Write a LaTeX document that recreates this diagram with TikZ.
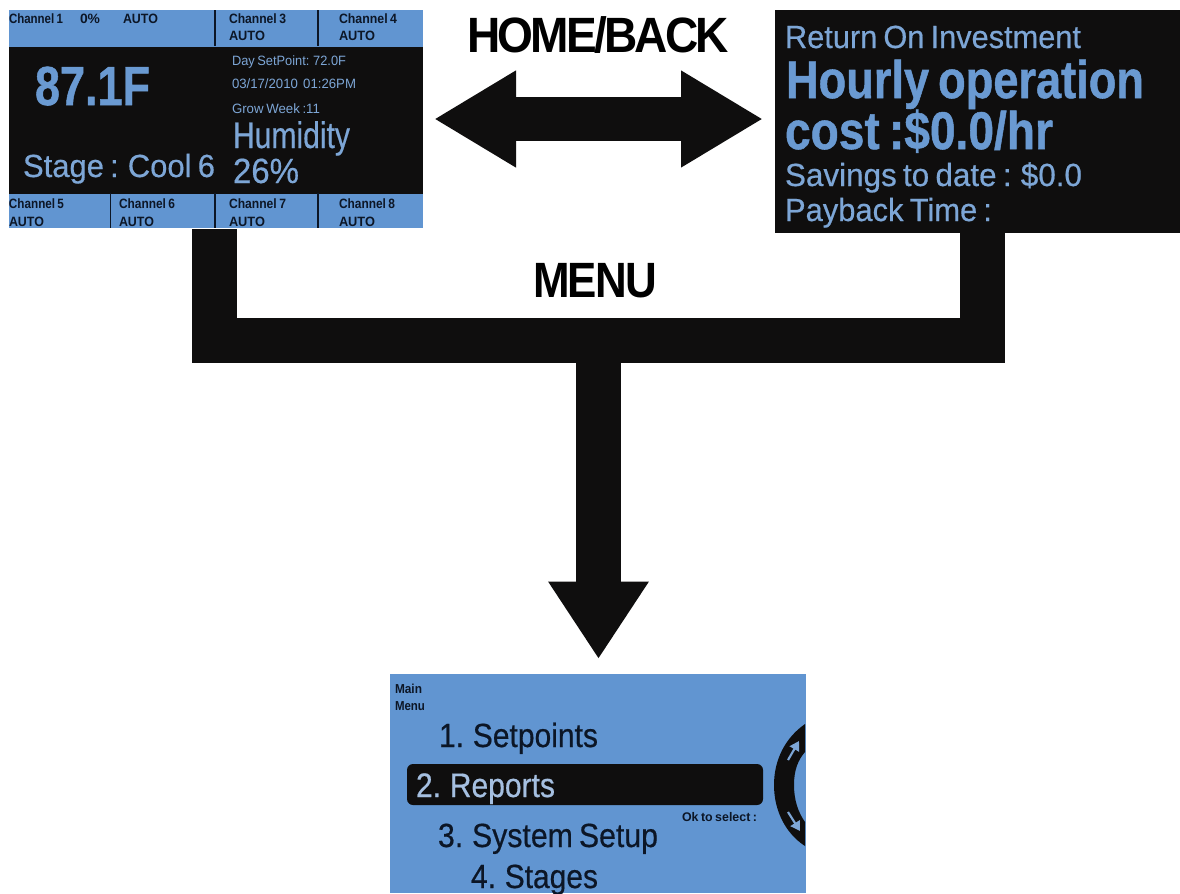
\documentclass[tikz,border=0pt]{standalone}
\usepackage{fontspec}
\usepackage{graphicx}
\setmainfont{Liberation Sans}
\usetikzlibrary{arrows.meta}
\newlength\pxu \setlength\pxu{.75pt}
\newfontfamily\tightA[LetterSpace=-6]{Liberation Sans}
\newfontfamily\tightB[LetterSpace=-4]{Liberation Sans}
\newfontfamily\heavyA[FakeBold=0.5]{Liberation Sans}
\newfontfamily\heavyB[BoldFont={Liberation Sans Bold},BoldFeatures={FakeBold=1.0}]{Liberation Sans}
% \fitw{target width px}{font size px}{text}
\newcommand\fitw[3]{\resizebox{#1\pxu}{\height}{\fontsize{#2\pxu}{#2\pxu}\selectfont\spaceskip=.2em\strut #3}}
\definecolor{pblue}{HTML}{6195D1}
\definecolor{ink}{HTML}{0F0E0E}
\definecolor{navy}{HTML}{0C1626}
\definecolor{tblue}{HTML}{6A9AD2}
\definecolor{sblue}{HTML}{7DA6D6}
\definecolor{lblue}{HTML}{A5BFE0}
\tikzset{
  box/.style={inner sep=0,outer sep=0,anchor=north west,draw=none},
  txt/.style={inner sep=0,outer sep=0,anchor=base west},
  dark/.style={txt,text=navy},
  bright/.style={txt,text=tblue},
  soft/.style={txt,text=sblue},
  pale/.style={txt,text=lblue},
  divider/.style={draw=navy,line width=.9pt},
  conn/.style={draw=ink,line width=33.75pt},
  heavyarrow/.style={draw=ink,line width=33pt,
    {Triangle[length=61.5pt,width=68.25pt,fill=ink]}-{Triangle[length=61.5pt,width=68.25pt,fill=ink]}},
  downarrow/.style={draw=ink,line width=33.75pt,
    -{Triangle[length=58pt,width=71.25pt,fill=ink]}},
}
\begin{document}
\begin{tikzpicture}[x=.75pt,y=-.75pt]
\useasboundingbox (0,0) rectangle (1180,893);
\fill[white] (0,0) rectangle (1180,893);

% connectors first
\coordinate (junctionL) at (192,340);
\coordinate (junctionR) at (1005,340);
\coordinate (junctionM) at (598.5,340);
\coordinate (statusOut) at (214.5,229);
\coordinate (roiOut) at (982.5,232);
\coordinate (elbowL) at (214.5,340);
\coordinate (elbowR) at (982.5,340);
\coordinate (menuIn) at (598.5,659);
\coordinate (tipL) at (434,119);
\coordinate (tipR) at (763,119);
\draw[conn] (statusOut) -- (elbowL);
\draw[conn] (roiOut) -- (elbowR);
\draw[conn] (junctionL) -- (junctionR);
\draw[downarrow] (junctionM) -- (menuIn);
\draw[heavyarrow] (tipL) -- (tipR);

% status screen
\node[box,fill=pblue,minimum width=414\pxu,minimum height=218\pxu] (status) at (9,10) {};
\node[box,fill=ink,minimum width=414\pxu,minimum height=147\pxu] (statusMid) at (9,46.5) {};
\foreach \i/\x/\a/\b in {a/215/10/46,b/318/10/46,c/110.5/193/228,d/215/193/228,e/318/193/228}
  \draw[divider] (\x,\a) -- (\x,\b);
\node[dark] (c1) at (9,23) {\fitw{54}{13.5}{\bfseries Channel 1}};
\node[dark] (c1p) at (80,23) {\fitw{20}{13.5}{\bfseries 0\%}};
\node[dark] (c1a) at (123,23) {\fitw{35}{13.5}{\bfseries AUTO}};
\node[dark] (c3) at (229,23) {\fitw{57}{13.5}{\bfseries Channel 3}};
\node[dark] (c3a) at (229,40) {\fitw{36}{13.5}{\bfseries AUTO}};
\node[dark] (c4) at (339,23) {\fitw{58}{13.5}{\bfseries Channel 4}};
\node[dark] (c4a) at (339,40) {\fitw{36}{13.5}{\bfseries AUTO}};
\node[dark] (c5) at (9,208) {\fitw{55}{13.5}{\bfseries Channel 5}};
\node[dark] (c5a) at (9,226) {\fitw{35}{13.5}{\bfseries AUTO}};
\node[dark] (c6) at (119,208) {\fitw{56}{13.5}{\bfseries Channel 6}};
\node[dark] (c6a) at (119,226) {\fitw{35}{13.5}{\bfseries AUTO}};
\node[dark] (c7) at (229,208) {\fitw{57}{13.5}{\bfseries Channel 7}};
\node[dark] (c7a) at (229,226) {\fitw{36}{13.5}{\bfseries AUTO}};
\node[dark] (c8) at (339,208) {\fitw{56}{13.5}{\bfseries Channel 8}};
\node[dark] (c8a) at (339,226) {\fitw{36}{13.5}{\bfseries AUTO}};
\node[bright] (temp) at (35,105) {\fitw{115}{55}{\heavyB\bfseries 87.1F}};
\node[soft] (stage) at (23,177) {\fitw{192}{32}{\heavyA Stage : Cool 6}};
\node[soft] (setp) at (232,65) {\fitw{114}{13.5}{Day SetPoint: 72.0F}};
\node[soft] (date) at (232,88) {\fitw{124}{13.5}{03/17/2010\ \ 01:26PM}};
\node[soft] (week) at (232,113) {\fitw{88}{13.5}{Grow Week :11}};
\node[soft] (hum) at (233,148) {\fitw{117}{37}{\heavyA Humidity}};
\node[soft] (humv) at (233,183) {\fitw{66}{35}{\heavyA 26\%}};

% ROI screen
\node[box,fill=ink,minimum width=405\pxu,minimum height=222.5\pxu] (roi) at (775,10) {};
\node[soft] (r1) at (785,48) {\fitw{296}{32}{\heavyA Return On Investment}};
\node[bright] (r2) at (786,98) {\fitw{358}{53}{\heavyB\bfseries Hourly operation}};
\node[bright] (r3) at (785,149) {\fitw{268}{53}{\heavyB\bfseries cost :\$0.0/hr}};
\node[soft] (r4) at (785,186) {\fitw{297}{32}{\heavyA Savings to date : \$0.0}};
\node[soft] (r5) at (785,221) {\fitw{207}{32}{\heavyA Payback Time :}};

% labels
\node[txt,text=black] (home) at (467,52) {\fitw{262}{49.6}{\tightA\bfseries HOME/BACK}};
\node[txt,text=black] (menuL) at (533,297) {\fitw{124}{49.6}{\tightB\bfseries MENU}};

% menu screen
\begin{scope}
\clip (390,674) rectangle (806,893);
\node[box,fill=pblue,minimum width=416\pxu,minimum height=219\pxu] (menu) at (390,674) {};
\node[box,fill=ink,rounded corners=4.5pt,minimum width=356\pxu,minimum height=41\pxu] (hl) at (407,764) {};
\node[dark] (mm1) at (395,693) {\fitw{27}{13}{\bfseries Main}};
\node[dark] (mm2) at (395,710) {\fitw{30}{13}{\bfseries Menu}};
\node[dark] (m1) at (439,747) {\fitw{159}{33.5}{\heavyA 1. Setpoints}};
\node[pale] (m2) at (416,797) {\fitw{139}{34}{\heavyA 2. Reports}};
\node[dark] (ok) at (682,821) {\fitw{75}{12.5}{\bfseries Ok to select :}};
\node[dark] (m3) at (438,847) {\fitw{220}{33.5}{\heavyA 3. System Setup}};
\node[dark] (m4) at (471,888) {\fitw{127}{33.5}{\heavyA 4. Stages}};
\fill[ink] (805,724) .. controls (785,738) and (774,760) .. (774,785)
  .. controls (774,810) and (785,833) .. (805,846) -- (805,822)
  .. controls (798,812) and (794,800) .. (794,785)
  .. controls (794,770) and (798,760) .. (805,752) -- cycle;
\draw[sblue,line width=1.6pt,-{Triangle[length=7pt,width=8pt]}] (788,760) -- (799,741);
\draw[sblue,line width=1.6pt,-{Triangle[length=7pt,width=8pt]}] (788,812) -- (800,831);
\end{scope}
\end{tikzpicture}
\end{document}
